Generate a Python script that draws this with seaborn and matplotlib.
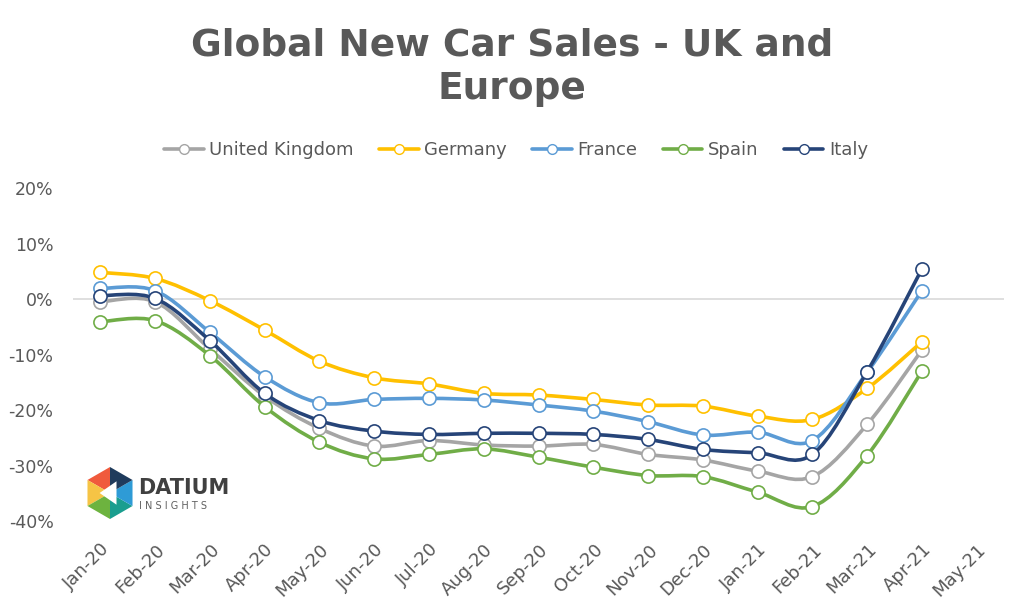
import numpy as np
import pandas as pd
import matplotlib
matplotlib.use("Agg")
import matplotlib.pyplot as plt
import seaborn as sns
from matplotlib.path import Path
from matplotlib.patches import PathPatch, Polygon
from matplotlib.lines import Line2D

months = ['Jan-20', 'Feb-20', 'Mar-20', 'Apr-20', 'May-20', 'Jun-20', 'Jul-20', 'Aug-20',
          'Sep-20', 'Oct-20', 'Nov-20', 'Dec-20', 'Jan-21', 'Feb-21', 'Mar-21', 'Apr-21', 'May-21']

# % change (May-21 has no data)
uk      = [-0.5, -0.5, -9.0, -17.5, -23.3, -26.5, -25.5, -26.3, -26.5, -26.2, -28.0, -29.0, -31.0, -32.0, -22.6, -9.2]
germany = [4.8, 3.7, -0.3, -5.6, -11.2, -14.2, -15.3, -17.0, -17.3, -18.1, -19.1, -19.3, -21.1, -21.7, -16.1, -7.7]
france  = [1.9, 1.5, -6.0, -14.0, -18.7, -18.1, -17.9, -18.2, -19.1, -20.2, -22.1, -24.5, -24.0, -25.5, -13.2, 1.5]
spain   = [-4.1, -3.9, -10.2, -19.4, -25.8, -28.8, -28.0, -27.0, -28.5, -30.3, -31.8, -32.0, -34.8, -37.4, -28.2, -13.0]
italy   = [0.6, 0.1, -7.5, -17.0, -21.9, -23.8, -24.4, -24.2, -24.2, -24.4, -25.3, -27.1, -27.7, -28.0, -13.1, 5.4]

series = {'United Kingdom': uk, 'Germany': germany, 'France': france, 'Spain': spain, 'Italy': italy}
colors = {'United Kingdom': '#A5A5A5', 'Germany': '#FFC000', 'France': '#5B9BD5',
          'Spain': '#70AD47', 'Italy': '#264478'}

sns.set_style("white")
plt.rcParams['font.family'] = ['DejaVu Sans']
TXT = '#595959'

fig = plt.figure(figsize=(10.24, 6.16), dpi=100)
ax = fig.add_axes([0.0713, 0.1542, 0.9092, 0.5406])


def smooth_path(xs, ys):
    # Excel-style smoothed line: cubic bezier through every point
    verts = [(xs[0], ys[0])]
    codes = [Path.MOVETO]
    n = len(xs)
    for i in range(n - 1):
        a = i - 1 if i > 0 else i
        b = i + 2 if i + 2 < n else i + 1
        c1 = (xs[i] + (xs[i + 1] - xs[a]) / 6, ys[i] + (ys[i + 1] - ys[a]) / 6)
        c2 = (xs[i + 1] - (xs[b] - xs[i]) / 6, ys[i + 1] - (ys[b] - ys[i]) / 6)
        verts += [c1, c2, (xs[i + 1], ys[i + 1])]
        codes += [Path.CURVE4] * 3
    return Path(verts, codes)


ax.axhline(0, color='#D9D9D9', lw=1.2, zorder=1)

handles = []
for k, (name, vals) in enumerate(series.items()):
    xs = np.arange(len(vals))
    c = colors[name]
    ax.add_patch(PathPatch(smooth_path(xs, vals), facecolor='none', edgecolor=c,
                           lw=2.6, capstyle='round', joinstyle='round', zorder=2 + 2 * k))
    df = pd.DataFrame({'x': xs, 'y': vals})
    sns.scatterplot(data=df, x='x', y='y', ax=ax, color='white', edgecolor=c,
                    s=90, linewidth=1.2, zorder=3 + 2 * k)
    handles.append(Line2D([], [], color=c, lw=2.6, marker='o', markersize=7,
                          markerfacecolor='white', markeredgecolor=c, markeredgewidth=1.0))

ax.set_xlim(-0.5, len(months) - 0.5)
ax.set_ylim(-40, 20)
ax.set_xticks(range(len(months)))
ax.set_xticklabels(months, rotation=45, ha='right', rotation_mode='anchor',
                   color=TXT, fontsize=13)
ax.set_yticks(range(-40, 21, 10))
ax.set_yticklabels([f'{v}%' for v in range(-40, 21, 10)], color=TXT, fontsize=12.5)
ax.tick_params(axis='x', length=0, pad=14)
ax.tick_params(axis='y', length=0, pad=14)
ax.set_xlabel('')
ax.set_ylabel('')
for s in ax.spines.values():
    s.set_visible(False)

fig.legend(handles, list(series.keys()), loc='center', bbox_to_anchor=(0.504, 0.756),
           ncol=5, frameon=False, fontsize=13, labelcolor=TXT, handlelength=2.2,
           handletextpad=0.3, columnspacing=1.4)

fig.text(0.5, 0.955, 'Global New Car Sales - UK and\nEurope', ha='center', va='top',
         fontsize=27, fontweight='bold', color=TXT, linespacing=1.25)

# DATIUM INSIGHTS logo
cx, cy, r = 110 / 1024, 1 - 493 / 616, 26
rx, ry = r / 1024, r / 616
pts = [(cx + rx * np.cos(np.radians(90 + 60 * i)), cy + ry * np.sin(np.radians(90 + 60 * i))) for i in range(6)]
tri_cols = ['#F05A3C', '#F6C445', '#6DB33F', '#1A9E8F', '#2E9BD6', '#1F3B5C']
for i in range(6):
    fig.patches.append(Polygon([(cx, cy), pts[i], pts[(i + 1) % 6]], closed=True,
                               facecolor=tri_cols[i], edgecolor='none', transform=fig.transFigure))
fig.patches.append(Polygon([(cx - 0.4 * rx, cy), (cx + 0.25 * rx, cy + 0.45 * ry), (cx + 0.25 * rx, cy - 0.45 * ry)],
                           closed=True, facecolor='white', edgecolor='none', transform=fig.transFigure))
fig.text(138 / 1024, 1 - 488 / 616, 'DATIUM', ha='left', va='center', fontsize=15,
         fontweight='bold', color='#404040')
fig.text(139 / 1024, 1 - 506 / 616, 'I N S I G H T S', ha='left', va='center', fontsize=7,
         color='#606060')

fig.savefig('out.png', dpi=100, facecolor='white')
